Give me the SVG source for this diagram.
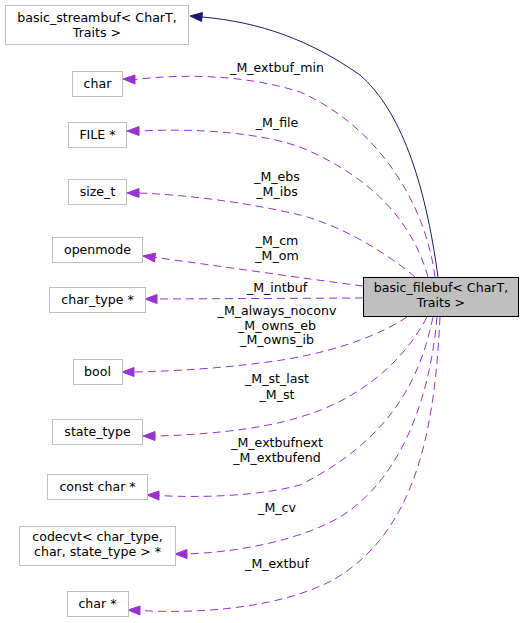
<svg xmlns="http://www.w3.org/2000/svg" width="525" height="623" viewBox="0 0 525 623">
<style>
text{font-family:"DejaVu Sans","Liberation Sans",sans-serif;font-size:12.6px;fill:#000;text-anchor:middle}
.n rect{fill:#fff;stroke:#bfbfbf;stroke-width:1}
.main rect{fill:#bfbfbf;stroke:#000;stroke-width:1}
.e path{fill:none;stroke:#9a32cd;stroke-width:1;stroke-dasharray:8,5}
.e polygon{fill:#9a32cd;stroke:#9a32cd;stroke-width:1}
.s path{fill:none;stroke:#191970;stroke-width:1}
.s polygon{fill:#191970;stroke:#191970;stroke-width:1}
</style>
<rect width="525" height="623" fill="#fff"/>
<g id="connectors">
<g class="s">
<path d="M438,277 C425,180 400,110 360,75 C310,40 260,22 202,17"/>
<polygon points="190,16 202.4,12.5 201.6,21.5"/>
</g>
<g class="e">
<path d="M435,277 C425,200 375,125 300,92 C250,76 190,73 135,79.5"/>
<polygon points="123,79 135,75 135,84"/>
<path d="M428,277 C415,230 380,180 300,147 C260,133 200,128 139,131"/>
<polygon points="127,131 139,126.5 139,135.5"/>
<path d="M415,277 C395,260 350,228 300,215 C250,203 190,195 139,193"/>
<polygon points="127,193 139,188.5 139,197.5"/>
<path d="M363,286 C300,278 220,266 155,257.5"/>
<polygon points="143,256 155.5,253 154.5,262"/>
<path d="M363,298 L157,299"/>
<polygon points="145,299 157,294.5 157,303.5"/>
<path d="M407,317 C380,335 330,355 260,363 C220,368 180,371 134,372"/>
<polygon points="122,372 134,367.5 134,376.5"/>
<path d="M427,317 C405,360 360,400 300,417 C260,430 200,435 155,436"/>
<polygon points="143,436 155,431.5 155,440.5"/>
<path d="M433,317 C420,380 390,440 300,485 C260,496 200,498 159,495.5"/>
<polygon points="147,495 159,491 159,500"/>
<path d="M437,317 C430,400 400,480 340,517 C300,540 240,552 187,554"/>
<polygon points="175,554 187,549.5 187,558.5"/>
<path d="M440,317 C435,420 420,530 333,580 C280,608 200,614 140,610.5"/>
<polygon points="128,610 140,606 140,615"/>
</g>
<g id="labels">
<text x="277" y="72">_M_extbuf_min</text>
<text x="277" y="127">_M_file</text>
<text x="277" y="181">_M_ebs</text>
<text x="277" y="196">_M_ibs</text>
<text x="277" y="245">_M_cm</text>
<text x="277" y="260">_M_om</text>
<text x="277" y="292">_M_intbuf</text>
<text x="277" y="315">_M_always_noconv</text>
<text x="277" y="330">_M_owns_eb</text>
<text x="277" y="344">_M_owns_ib</text>
<text x="277" y="383">_M_st_last</text>
<text x="277" y="399">_M_st</text>
<text x="277" y="447">_M_extbufnext</text>
<text x="277" y="462">_M_extbufend</text>
<text x="277" y="512">_M_cv</text>
<text x="277" y="568">_M_extbuf</text>
</g>
</g>
<g id="node_filebuf" class="main"><rect x="363.5" y="277.5" width="155" height="39"/><text x="441" y="292">basic_filebuf&lt; CharT,</text><text x="441" y="307">Traits &gt;</text></g>
<g id="node_streambuf" class="n"><rect x="5.5" y="5.5" width="183" height="39"/><text x="97" y="22">basic_streambuf&lt; CharT,</text><text x="97" y="37">Traits &gt;</text></g>
<g id="node_char" class="n"><rect x="72.5" y="71.5" width="50" height="25"/><text x="97.5" y="88">char</text></g>
<g id="node_file" class="n"><rect x="68.5" y="122.5" width="58" height="25"/><text x="97.5" y="139">FILE *</text></g>
<g id="node_size_t" class="n"><rect x="68.5" y="179.5" width="58" height="25"/><text x="97.5" y="196">size_t</text></g>
<g id="node_openmode" class="n"><rect x="52.5" y="237.5" width="90" height="25"/><text x="97.5" y="254">openmode</text></g>
<g id="node_char_type" class="n"><rect x="49.5" y="287.5" width="96" height="25"/><text x="97.5" y="304">char_type *</text></g>
<g id="node_bool" class="n"><rect x="73.5" y="359.5" width="49" height="25"/><text x="97.5" y="376">bool</text></g>
<g id="node_state_type" class="n"><rect x="52.5" y="419.5" width="90" height="25"/><text x="97.5" y="436">state_type</text></g>
<g id="node_const_char" class="n"><rect x="47.5" y="474.5" width="100" height="25"/><text x="97.5" y="491">const char *</text></g>
<g id="node_codecvt" class="n"><rect x="19.5" y="526.5" width="156" height="39"/><text x="97.5" y="541">codecvt&lt; char_type,</text><text x="97.5" y="556"> char, state_type &gt; *</text></g>
<g id="node_char_ptr" class="n"><rect x="67.5" y="591.5" width="61" height="25"/><text x="97.5" y="608">char *</text></g>
</svg>
